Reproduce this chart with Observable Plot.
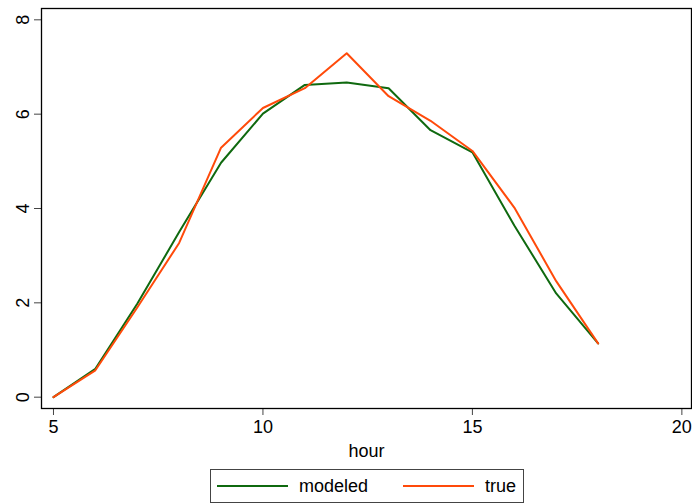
<!DOCTYPE html>
<html>
<head>
<meta charset="utf-8">
<script src="https://cdn.jsdelivr.net/npm/d3@7"></script>
<script src="https://cdn.jsdelivr.net/npm/@observablehq/plot@0.6"></script>
<style>
  html, body { margin: 0; padding: 0; background: #fff; }
  #wrap { position: relative; width: 692px; height: 504px; font-family: "Liberation Sans", Arial, sans-serif; }
  #legend { position: absolute; left: 210px; top: 469px; width: 314px; height: 34px; border: 1px solid #444; box-sizing: border-box; background: #fff; }
  #legend .item { position: absolute; top: 0; height: 32px; display: flex; align-items: center; font-size: 18px; color: #000; }
  #legend svg { margin-right: 11px; }
</style>
</head>
<body>
<div id="wrap"><div id="chart"></div><div id="legend"></div></div>
<script>
const hours   = [5, 6, 7, 8, 9, 10, 11, 12, 13, 14, 15, 16, 17, 18];
const modeled = [0, 0.60, 1.98, 3.50, 4.97, 6.01, 6.62, 6.67, 6.55, 5.66, 5.19, 3.64, 2.20, 1.14];
const trueVal = [0, 0.57, 1.90, 3.27, 5.29, 6.13, 6.55, 7.29, 6.38, 5.86, 5.22, 4.02, 2.46, 1.14];
const seriesNames = ["modeled", "true"];
const seriesColors = ["#0f690f", "#ff4a0a"];
const xTicks = [5, 10, 15, 20];
const yTicks = [0, 2, 4, 6, 8];

const rows = [];
hours.forEach((h, i) => {
  rows.push({hour: h, value: modeled[i], series: seriesNames[0]});
  rows.push({hour: h, value: trueVal[i], series: seriesNames[1]});
});

const chart = Plot.plot({
  width: 692,
  height: 466,
  marginTop: 8,
  marginBottom: 58,
  marginLeft: 41,
  marginRight: 1,
  style: {fontFamily: "'Liberation Sans', Arial, sans-serif", fontSize: "18px", color: "#000", background: "#fff"},
  x: {domain: [4.714, 20.23], ticks: xTicks, tickSize: 7, tickPadding: 5, label: null},
  y: {domain: [-0.24, 8.24], ticks: yTicks, tickSize: 7, tickPadding: 6, tickRotate: -90, label: null},
  color: {domain: seriesNames, range: seriesColors},
  marks: [
    Plot.axisX({ticks: xTicks, tickSize: 7, tickPadding: 5, label: null, stroke: "#444"}),
    Plot.axisY({ticks: yTicks, tickSize: 7, tickPadding: 6, tickRotate: -90, label: null, stroke: "#444"}),
    Plot.text(["hour"], {frameAnchor: "bottom", dy: 48, fontSize: 18, fill: "#000"}),
    Plot.line(rows, {x: "hour", y: "value", z: "series", stroke: "series", strokeWidth: 2}),
    Plot.frame({stroke: "#000", strokeWidth: 1.3})
  ]
});
document.getElementById("chart").appendChild(chart);

const legend = document.getElementById("legend");
const lefts = [6, 192];
seriesNames.forEach((name, i) => {
  const item = document.createElement("div");
  item.className = "item";
  item.style.left = lefts[i] + "px";
  item.innerHTML = `<svg width="71" height="4"><line x1="0" y1="2" x2="71" y2="2" stroke="${seriesColors[i]}" stroke-width="2"/></svg><span>${name}</span>`;
  legend.appendChild(item);
});
</script>
</body>
</html>
